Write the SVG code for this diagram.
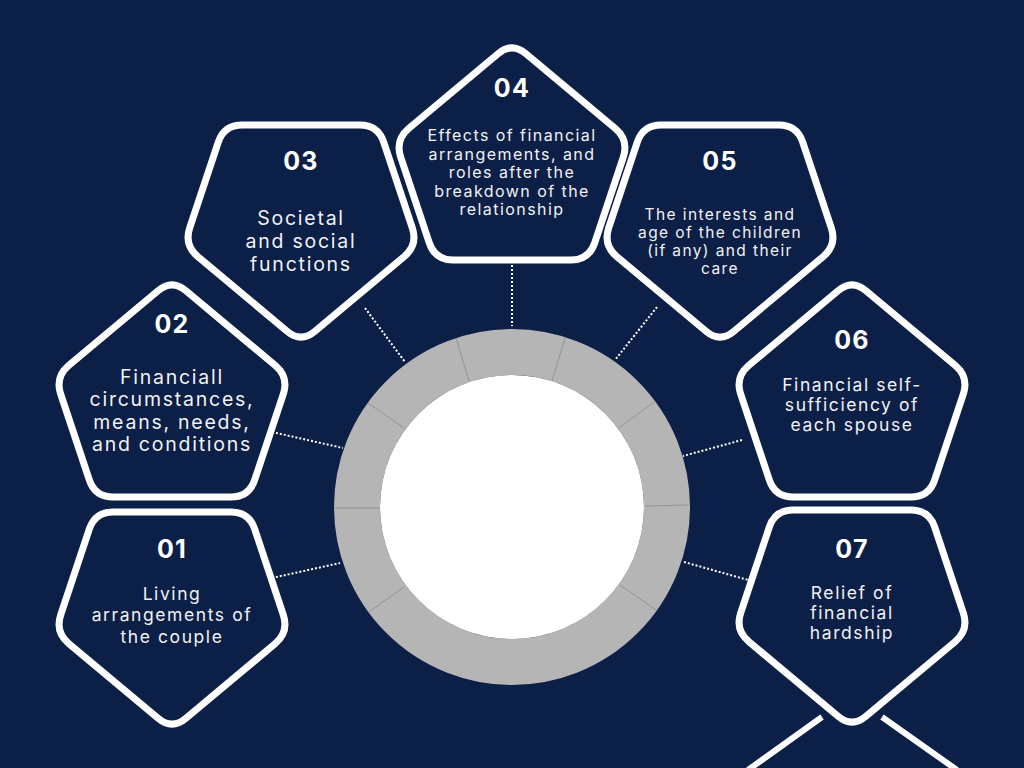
<svg xmlns="http://www.w3.org/2000/svg" xmlns:xlink="http://www.w3.org/1999/xlink" width="1024" height="768" viewBox="0 0 1024 768">
<defs>
<style>
.pent{fill:#0b1f47;stroke:#fff;stroke-width:7}
.num{font-family:Inter,"Noto Sans",sans-serif;font-weight:700;font-size:25px;fill:#fff;text-anchor:middle;letter-spacing:0.05em}
.txt{font-family:Inter,"Noto Sans",sans-serif;fill:#f2f2f2;text-anchor:middle;letter-spacing:0.09em}
.dot{stroke:#fff;stroke-width:2;stroke-dasharray:2 2;fill:none}
.div{stroke:#8a8a8a;stroke-width:0.8}
</style>
<path id="down" d="M -59,0 L 59,0 Q 77,0 82.7,17.1 L 111.3,102.9 Q 117,120 103.2,131.6 L 13.8,206.4 Q 0,218 -13.8,206.4 L -103.2,131.6 Q -117,120 -111.3,102.9 L -82.7,17.1 Q -77,0 -59,0 Z"/>
<path id="up" d="M -59,218 L 59,218 Q 77,218 82.7,200.9 L 111.3,115.1 Q 117,98 103.2,86.4 L 13.8,11.6 Q 0,0 -13.8,11.6 L -103.2,86.4 Q -117,98 -111.3,115.1 L -82.7,200.9 Q -77,218 -59,218 Z"/>
</defs>
<rect width="1024" height="768" fill="#0b1f47"/>
<g id="extra" stroke="#fff" stroke-width="6">
<line x1="748" y1="770" x2="822" y2="717"/>
<line x1="882" y1="717" x2="957" y2="770"/>
</g>
<g id="connectors">
<line class="dot" x1="365" y1="308" x2="405" y2="362"/>
<line class="dot" x1="512" y1="265" x2="512" y2="326"/>
<line class="dot" x1="657" y1="307" x2="615" y2="360"/>
<line class="dot" x1="272" y1="432" x2="343" y2="448"/>
<line class="dot" x1="742" y1="440" x2="683" y2="456"/>
<line class="dot" x1="272" y1="578" x2="340" y2="563"/>
<line class="dot" x1="684" y1="562" x2="748" y2="580"/>
</g>
<g id="ring">
<circle cx="512" cy="507" r="155" fill="none" stroke="#b5b5b5" stroke-width="46"/>
<circle cx="512" cy="507" r="132" fill="#fff"/>
<line class="div" x1="456" y1="338" x2="469" y2="381"/>
<line class="div" x1="565" y1="338" x2="552" y2="381"/>
<line class="div" x1="654" y1="402" x2="619" y2="428"/>
<line class="div" x1="689" y1="505" x2="645" y2="506"/>
<line class="div" x1="656" y1="610" x2="620" y2="585"/>
<line class="div" x1="369" y1="612" x2="404" y2="587"/>
<line class="div" x1="334" y1="508" x2="379" y2="508"/>
<line class="div" x1="368" y1="403" x2="404" y2="428"/>
</g>
<g id="n01">
<use xlink:href="#down" class="pent" transform="translate(172,512)"/>
<text class="num" x="172" y="558">01</text>
<text class="txt" font-size="17.5"><tspan x="172" y="600">Living</tspan><tspan x="172" y="621">arrangements of</tspan><tspan x="172" y="643">the couple</tspan></text>
</g>
<g id="n02">
<use xlink:href="#up" class="pent" transform="translate(172,279)"/>
<text class="num" x="172" y="333">02</text>
<text class="txt" font-size="19.5"><tspan x="172" y="384">Financiall</tspan><tspan x="172" y="406">circumstances,</tspan><tspan x="172" y="429">means, needs,</tspan><tspan x="172" y="451">and conditions</tspan></text>
</g>
<g id="n03">
<use xlink:href="#down" class="pent" transform="translate(301,125)"/>
<text class="num" x="301" y="170">03</text>
<text class="txt" font-size="19.5"><tspan x="301" y="225">Societal</tspan><tspan x="301" y="248">and social</tspan><tspan x="301" y="271">functions</tspan></text>
</g>
<g id="n04">
<use xlink:href="#up" class="pent" transform="translate(512,42)"/>
<text class="num" x="512" y="97">04</text>
<text class="txt" font-size="16"><tspan x="512" y="141">Effects of financial</tspan><tspan x="512" y="159.5">arrangements, and</tspan><tspan x="512" y="178">roles after the</tspan><tspan x="512" y="196.5">breakdown of the</tspan><tspan x="512" y="215">relationship</tspan></text>
</g>
<g id="n05">
<use xlink:href="#down" class="pent" transform="translate(720,125)"/>
<text class="num" x="720" y="170">05</text>
<text class="txt" font-size="15.5"><tspan x="720" y="220">The interests and</tspan><tspan x="720" y="238">age of the children</tspan><tspan x="720" y="256">(if any) and their</tspan><tspan x="720" y="274">care</tspan></text>
</g>
<g id="n06">
<use xlink:href="#up" class="pent" transform="translate(852,279)"/>
<text class="num" x="852" y="349">06</text>
<text class="txt" font-size="17.5"><tspan x="852" y="391">Financial self-</tspan><tspan x="852" y="411">sufficiency of</tspan><tspan x="852" y="431">each spouse</tspan></text>
</g>
<g id="n07">
<use xlink:href="#down" class="pent" transform="translate(852,510)"/>
<text class="num" x="852" y="558">07</text>
<text class="txt" font-size="17.5"><tspan x="852" y="599">Relief of</tspan><tspan x="852" y="619">financial</tspan><tspan x="852" y="639">hardship</tspan></text>
</g>
</svg>
